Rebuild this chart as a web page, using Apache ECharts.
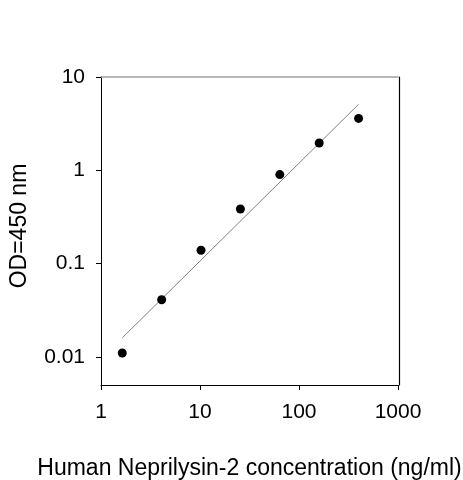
<!DOCTYPE html>
<html style="height: 100%">
<head>
    <meta charset="utf-8">
</head>
<body style="height: 100%; margin: 0; background: #fff">
<div id="container" style="width: 463px; height: 480px"></div>
<script type="text/javascript" src="https://cdn.jsdelivr.net/npm/echarts@6/dist/echarts.min.js"></script>
<script type="text/javascript">
    // standard concentrations (ng/ml), 2.5x dilution from 400
    var concentration = [1.64, 4.1, 10.24, 25.6, 64, 160, 400];
    // measured OD at 450 nm
    var od450 = [0.011, 0.041, 0.139, 0.385, 0.90, 1.96, 3.6];
    // ends of the fitted line
    var fitX = [1.64, 400];
    var fitY = [0.016, 5.1];
    // tick labels
    var xTicks = [1, 10, 100, 1000];
    var yTicks = [0.01, 0.1, 1, 10];

    var font = 'Arial, "Liberation Sans", sans-serif';

    var dom = document.getElementById("container");
    var myChart = echarts.init(dom);

    var pointData = [];
    for (var i = 0; i < concentration.length; i++) {
        pointData.push([concentration[i], od450[i]]);
    }
    var lineData = [];
    for (var j = 0; j < fitX.length; j++) {
        lineData.push([fitX[j], fitY[j]]);
    }

    function tickLabel(v) {
        for (var k = 0; k < yTicks.length; k++) {
            if (Math.abs(v - yTicks[k]) < 1e-9) return String(yTicks[k]);
        }
        for (var k2 = 0; k2 < xTicks.length; k2++) {
            if (Math.abs(v - xTicks[k2]) < 1e-9) return String(xTicks[k2]);
        }
        return '';
    }

    var option = {
        animation: false,
        grid: {
            left: 101,
            right: 65,
            top: 77,
            bottom: 95,
            containLabel: false,
            outerBoundsMode: 'none'
        },
        xAxis: [{
            type: 'log',
            logBase: 10,
            min: 1,
            max: 1000,
            name: 'Human Neprilysin-2 concentration (ng/ml)',
            nameLocation: 'middle',
            nameGap: 72,
            nameTextStyle: {color: '#000', fontFamily: font, fontSize: 23},
            axisLine: {lineStyle: {color: '#000', width: 1}},
            axisTick: {show: true, inside: false, length: 5, lineStyle: {color: '#000'}},
            minorTick: {show: false},
            splitLine: {show: false},
            axisLabel: {
                color: '#000', fontFamily: font, fontSize: 21, margin: 17,
                formatter: tickLabel
            }
        }, {
            type: 'log',
            position: 'top',
            min: 1,
            max: 1000,
            axisLine: {lineStyle: {color: '#a0a0a0', width: 1.5}},
            axisTick: {show: false},
            axisLabel: {show: false},
            splitLine: {show: false}
        }],
        yAxis: [{
            type: 'log',
            logBase: 10,
            min: 0.005,
            max: 10,
            name: 'OD=450 nm',
            nameLocation: 'middle',
            nameGap: 70,
            nameTextStyle: {color: '#000', fontFamily: font, fontSize: 23, padding: [0, 0, 0, 10]},
            axisLine: {lineStyle: {color: '#000', width: 1}},
            axisTick: {show: true, inside: false, length: 5, lineStyle: {color: '#000'},
                customValues: yTicks},
            minorTick: {show: false},
            splitLine: {show: false},
            axisLabel: {
                color: '#000', fontFamily: font, fontSize: 21, margin: 16,
                customValues: yTicks,
                formatter: tickLabel
            }
        }, {
            type: 'log',
            position: 'right',
            offset: 1,
            min: 0.005,
            max: 10,
            axisLine: {show: true, lineStyle: {color: '#000', width: 1.2}},
            axisTick: {show: false},
            axisLabel: {show: false},
            splitLine: {show: false}
        }],
        series: [{
            type: 'line',
            data: lineData,
            symbol: 'none',
            lineStyle: {color: '#808080', width: 1},
            z: 1
        }, {
            type: 'scatter',
            data: pointData,
            symbol: 'circle',
            symbolSize: 9,
            itemStyle: {color: '#000', opacity: 1},
            z: 2
        }]
    };

    myChart.setOption(option, true);
</script>
</body>
</html>
